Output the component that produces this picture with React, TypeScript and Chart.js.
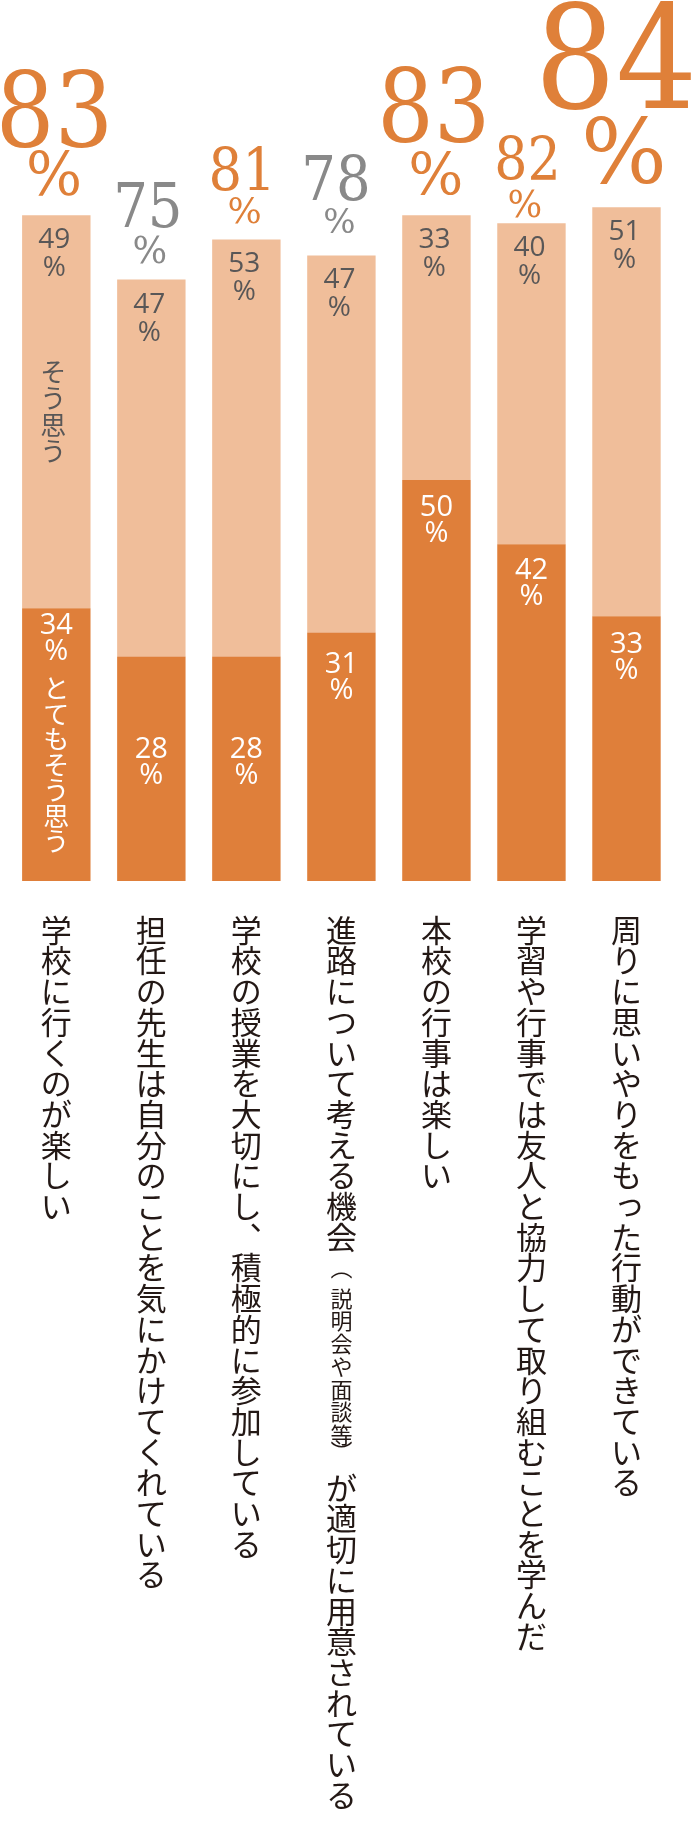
import { useEffect, useRef } from "react";
import { Chart, registerables } from "chart.js";

Chart.register(...registerables);

// ---- data ----
const categories = [
  "学校に行くのが楽しい",
  "担任の先生は自分のことを気にかけてくれている",
  "学校の授業を大切にし、積極的に参加している",
  "進路について考える機会（説明会や面談等）が適切に用意されている",
  "本校の行事は楽しい",
  "学習や行事では友人と協力して取り組むことを学んだ",
  "周りに思いやりをもった行動ができている",
];
// とてもそう思う (%)
const stronglyAgree = [34, 28, 28, 31, 50, 42, 33];
// そう思う (%) — bar heights as drawn
const agree = [49, 47, 52, 47, 33, 40, 51];
// そう思う — printed labels
const agreeLabels = ["49", "47", "53", "47", "33", "40", "51"];
// totals printed above bars
const totals = ["83", "75", "81", "78", "83", "82", "84"];

// ---- styles ----
const DARK = "#DF7F3A";
const LIGHT = "#F0BE9A";
const ORANGE = "#DF8039";
const GRAY = "#898989";
const INNER_GRAY = "#595757";
const LABEL_BLACK = "#231815";

// top total label styles: digit size, % size, baseline offsets above bar top, x offsets
const topStyles = [
  { size: 105, pct: 59, dy: 68.6, pdy: 20.3, dx: -1.8, pdx: -2.3, color: ORANGE },
  { size: 62, pct: 36.5, dy: 52.8, pdy: 16.2, dx: -3.5, pdx: -1.5, color: GRAY },
  { size: 60, pct: 36, dy: 48.7, pdy: 16.7, dx: -4.2, pdx: -1.7, color: ORANGE },
  { size: 62, pct: 34, dy: 55.4, pdy: 22.4, dx: -5.5, pdx: -1.9, color: GRAY },
  { size: 101, pct: 58, dy: 73.6, pdy: 21.3, dx: -2.7, pdx: -0.5, color: ORANGE },
  { size: 59.4, pct: 36.6, dy: 43.4, pdy: 6.7, dx: -4, pdx: -6.5, color: ORANGE },
  { size: 145, pct: 90.5, dy: 99, pdy: 24.6, dx: -10.5, pdx: -2.5, color: ORANGE },
];
// offset of white label (cap top) below the dark segment top
const darkLabelOffsets = [4.7, 80.3, 80.3, 19.3, 15, 14.1, 15.4];

const SMALL_KANA = "っゃゅょぁぃぅぇぉッャュョァィゥェォ";
const CJK_FONT = '"Noto Sans CJK JP", "Noto Sans CJK SC", sans-serif';

function drawVChar(ctx: CanvasRenderingContext2D, ch: string, x: number, cy: number, size: number) {
  let c = ch;
  let dx = 0;
  let dy = 0;
  if (ch === "、") c = "︑";
  else if (ch === "（") c = "︵";
  else if (ch === "）") c = "︶";
  else if (SMALL_KANA.includes(ch)) {
    dx = size * 0.1;
    dy = -size * 0.1;
  }
  ctx.font = `${size}px ${CJK_FONT}`;
  ctx.fillText(c, x + dx, cy + 0.38 * size + dy);
}

function drawVText(ctx: CanvasRenderingContext2D, text: string, x: number, firstCenter: number, size: number, pitch: number) {
  let cy = firstCenter;
  for (const ch of Array.from(text)) {
    drawVChar(ctx, ch, x, cy, size);
    cy += pitch;
  }
}

const labelPlugin = {
  id: "customLabels",
  afterDatasetsDraw(chart: any) {
    const ctx: CanvasRenderingContext2D = chart.ctx;
    const xs = chart.scales.x;
    const ys = chart.scales.y;
    ctx.save();
    ctx.textAlign = "center";
    ctx.textBaseline = "alphabetic";
    categories.forEach((cat, i) => {
      const cx = xs.getPixelForValue(i);
      const top = ys.getPixelForValue(stronglyAgree[i] + agree[i]);
      const mid = ys.getPixelForValue(stronglyAgree[i]);
      const base = ys.getPixelForValue(0);

      // totals above bar
      const s = topStyles[i];
      ctx.fillStyle = s.color;
      ctx.font = `${s.size}px "DejaVu Serif"`;
      ctx.save();
      ctx.translate(cx + s.dx, top - s.dy);
      ctx.scale(0.88, 1);
      ctx.fillText(totals[i], 0, 0);
      ctx.restore();
      ctx.font = `${s.pct}px "DejaVu Serif"`;
      ctx.fillText("%", cx + s.pdx, top - s.pdy);

      // light segment label
      ctx.fillStyle = INNER_GRAY;
      ctx.font = `28px "Open Sans"`;
      ctx.fillText(agreeLabels[i], cx - 2, top + 33);
      ctx.fillText("%", cx - 2, top + 61);

      // dark segment label
      ctx.fillStyle = "#FFFFFF";
      ctx.font = `29px "Open Sans"`;
      const off = darkLabelOffsets[i];
      ctx.fillText(String(stronglyAgree[i]), cx, mid + off + 21);
      ctx.fillText("%", cx, mid + off + 47);

      // legend-like text inside the first bar
      if (i === 0) {
        ctx.fillStyle = INNER_GRAY;
        const t1 = "そう思う";
        const segC = (top + mid) / 2;
        drawVText(ctx, t1, cx - 3, segC - ((t1.length - 1) / 2) * 26.5, 26, 26.5);
        ctx.fillStyle = "#FFFFFF";
        drawVText(ctx, "とてもそう思う", cx, mid + 80, 26, 25.5);
      }

      // category label, vertical
      ctx.fillStyle = LABEL_BLACK;
      let cy = base + 49;
      let small = false;
      for (const ch of Array.from(cat)) {
        if (ch === "（") {
          drawVChar(ctx, ch, cx, cy, 22);
          cy += 30.7;
          small = true;
          continue;
        }
        if (ch === "）") {
          drawVChar(ctx, ch, cx, cy - 6, 22);
          cy += 30.7;
          small = false;
          continue;
        }
        if (small) {
          drawVChar(ctx, ch, cx, cy, 22);
          cy += 22.7;
        } else {
          drawVChar(ctx, ch, cx, cy, 31);
          cy += 30.7;
        }
      }
    });
    ctx.restore();
  },
};

export default function App() {
  const ref = useRef<HTMLCanvasElement>(null);
  useEffect(() => {
    const chart = new Chart(ref.current as HTMLCanvasElement, {
      type: "bar",
      data: {
        labels: categories,
        datasets: [
          {
            label: "とてもそう思う",
            data: stronglyAgree,
            backgroundColor: DARK,
            borderWidth: 0,
            categoryPercentage: 1,
            barPercentage: 0.72,
          },
          {
            label: "そう思う",
            data: agree,
            backgroundColor: LIGHT,
            borderWidth: 0,
            categoryPercentage: 1,
            barPercentage: 0.72,
          },
        ],
      },
      options: {
        responsive: false,
        animation: false,
        devicePixelRatio: 1,
        layout: { padding: { left: 8.8, right: 24, top: 79, bottom: 945 } },
        scales: {
          x: { stacked: true, display: false, grid: { display: false } },
          y: { stacked: true, display: false, min: 0, max: 100, grid: { display: false } },
        },
        plugins: { legend: { display: false }, tooltip: { enabled: false } },
      },
      plugins: [labelPlugin],
    } as any);
    return () => chart.destroy();
  }, []);
  return (
    <div style={{ position: "absolute", left: 0, top: 0, width: 698, height: 1826 }}>
      <canvas ref={ref} width={698} height={1826} style={{ display: "block", width: 698, height: 1826 }} />
    </div>
  );
}
